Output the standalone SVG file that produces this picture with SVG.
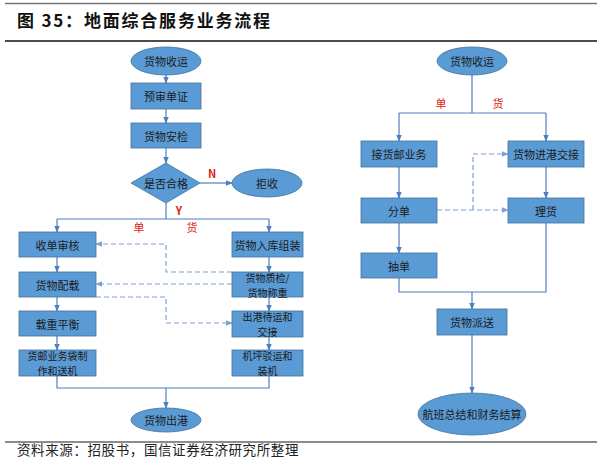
<svg xmlns="http://www.w3.org/2000/svg" width="601" height="467" viewBox="0 0 601 467">
<style>
.box{fill:#5B9BD5;stroke:#41719C;stroke-width:0.8}
.t{font-family:"Noto Sans CJK SC","Noto Sans",sans-serif;font-size:11px;fill:#1a1a1a;text-anchor:middle;dominant-baseline:central}
.t2{font-family:"Noto Sans CJK SC","Noto Sans",sans-serif;font-size:10px;fill:#1a1a1a;text-anchor:middle;dominant-baseline:central}
.ln{fill:none;stroke:#4F7FC0;stroke-width:1.2}
.ds{fill:none;stroke:#7FA0D4;stroke-width:1.2;stroke-dasharray:5,3}
.red{font-family:"Noto Sans CJK SC","Liberation Sans",sans-serif;font-size:11px;fill:#E0201A;text-anchor:middle;dominant-baseline:central}
</style>
<defs>
<marker id="ah" viewBox="0 0 10 10" refX="9" refY="5" markerWidth="6" markerHeight="6" orient="auto"><path d="M0,1 L10,5 L0,9 z" fill="#4F7FC0"/></marker>
<marker id="ahd" viewBox="0 0 10 10" refX="9" refY="5" markerWidth="6" markerHeight="6" orient="auto"><path d="M0,1 L10,5 L0,9 z" fill="#7FA0D4"/></marker>
</defs>
<rect width="601" height="467" fill="#fff"/>
<line x1="5" y1="3.5" x2="597" y2="3.5" stroke="#777" stroke-width="1.5"/>
<text x="17" y="27" font-family="'Noto Sans CJK SC','Liberation Sans',sans-serif" font-size="17" font-weight="bold" letter-spacing="1.8" fill="#111">图 35：地面综合服务业务流程</text>
<line x1="5" y1="41" x2="597" y2="41" stroke="#111" stroke-width="1.3"/>
<line x1="5" y1="442" x2="597" y2="442" stroke="#666" stroke-width="1.5"/>
<text x="17" y="455" font-family="'Noto Sans CJK SC',sans-serif" font-size="13.5" letter-spacing="0.6" fill="#222">资料来源：招股书，国信证券经济研究所整理</text>

<g id="connectors">
<path class="ln" d="M166,75 V83" marker-end="url(#ah)"/>
<path class="ln" d="M166,109 V123" marker-end="url(#ah)"/>
<path class="ln" d="M166,148 V163" marker-end="url(#ah)"/>
<path class="ln" d="M200,183 H232" marker-end="url(#ah)"/>
<path class="ln" d="M166,203 V219 M57,219 H269"/>
<path class="ln" d="M57,219 V232" marker-end="url(#ah)"/>
<path class="ln" d="M269,219 V232" marker-end="url(#ah)"/>
<path class="ln" d="M57,257 V272" marker-end="url(#ah)"/>
<path class="ln" d="M57,297 V311" marker-end="url(#ah)"/>
<path class="ln" d="M57,336 V350" marker-end="url(#ah)"/>
<path class="ln" d="M269,257 V272" marker-end="url(#ah)"/>
<path class="ln" d="M269,297 V311" marker-end="url(#ah)"/>
<path class="ln" d="M269,337 V350" marker-end="url(#ah)"/>
<path class="ln" d="M57,376 V388 H269 V376"/>
<path class="ln" d="M166,388 V408" marker-end="url(#ah)"/>
<path class="ds" d="M232,272 H166 V244 H96" marker-end="url(#ahd)"/>
<path class="ds" d="M232,284 H96" marker-end="url(#ahd)"/>
<path class="ds" d="M96,297 H166 V323 H232" marker-end="url(#ahd)"/>
<path class="ln" d="M472,75 V113 M399,113 H546"/>
<path class="ln" d="M399,113 V141" marker-end="url(#ah)"/>
<path class="ln" d="M546,113 V141" marker-end="url(#ah)"/>
<path class="ln" d="M399,167 V198" marker-end="url(#ah)"/>
<path class="ln" d="M546,167 V198" marker-end="url(#ah)"/>
<path class="ln" d="M399,223 V253" marker-end="url(#ah)"/>
<path class="ln" d="M399,278 V292 H546 V223"/>
<path class="ln" d="M472,292 V309" marker-end="url(#ah)"/>
<path class="ln" d="M472,335 V393" marker-end="url(#ah)"/>
<path class="ds" d="M437,210 H508" marker-end="url(#ahd)"/>
<path class="ds" d="M473,210 V154 H508" marker-end="url(#ahd)"/>
</g>

<g id="red-labels">
<text class="red" x="212" y="173" font-weight="bold">N</text>
<text class="red" x="179" y="210" font-weight="bold">Y</text>
<text class="red" x="139" y="227">单</text>
<text class="red" x="192" y="227">货</text>
<text class="red" x="441" y="103">单</text>
<text class="red" x="498" y="103">货</text>
</g>

<g id="n-start"><ellipse class="box" cx="166" cy="61" rx="35" ry="14"/><text class="t" x="166" y="61">货物收运</text></g>
<g id="n-prereview"><rect class="box" x="131" y="83" width="70" height="26"/><text class="t" x="166" y="96">预审单证</text></g>
<g id="n-security"><rect class="box" x="131" y="123" width="70" height="25"/><text class="t" x="166" y="135.5">货物安检</text></g>
<g id="n-check"><polygon class="box" points="166,163 200,183 166,203 131,183"/><text class="t" x="166" y="183">是否合格</text></g>
<g id="n-reject"><ellipse class="box" cx="267" cy="183" rx="35" ry="14"/><text class="t" x="267" y="183">拒收</text></g>
<g id="n-l1"><rect class="box" x="19" y="232" width="77" height="25"/><text class="t" x="57.5" y="244.5">收单审核</text></g>
<g id="n-l2"><rect class="box" x="19" y="272" width="77" height="25"/><text class="t" x="57.5" y="284.5">货物配载</text></g>
<g id="n-l3"><rect class="box" x="19" y="311" width="77" height="25"/><text class="t" x="57.5" y="323.5">载重平衡</text></g>
<g id="n-l4"><rect class="box" x="19" y="350" width="77" height="26"/><text class="t2" x="57.5" y="355.5">货邮业务袋制</text><text class="t2" x="57.5" y="370.5">作和送机</text></g>
<g id="n-r1"><rect class="box" x="232" y="232" width="71" height="25"/><text class="t" x="267.5" y="244.5">货物入库组装</text></g>
<g id="n-r2"><rect class="box" x="232" y="272" width="71" height="25"/><text class="t2" x="267.5" y="277">货物质检/</text><text class="t2" x="267.5" y="292">货物称重</text></g>
<g id="n-r3"><rect class="box" x="232" y="311" width="71" height="26"/><text class="t2" x="267.5" y="316.5">出港待运和</text><text class="t2" x="267.5" y="331.5">交接</text></g>
<g id="n-r4"><rect class="box" x="232" y="350" width="71" height="26"/><text class="t2" x="267.5" y="355.5">机坪驳运和</text><text class="t2" x="267.5" y="370.5">装机</text></g>
<g id="n-out"><ellipse class="box" cx="166" cy="420" rx="35" ry="12"/><text class="t" x="166" y="420">货物出港</text></g>

<g id="m-start"><ellipse class="box" cx="472" cy="61" rx="35" ry="14"/><text class="t" x="472" y="61">货物收运</text></g>
<g id="m-l1"><rect class="box" x="361" y="141" width="76" height="26"/><text class="t" x="399" y="154">接货邮业务</text></g>
<g id="m-r1"><rect class="box" x="508" y="141" width="76" height="26"/><text class="t" x="546" y="154">货物进港交接</text></g>
<g id="m-l2"><rect class="box" x="361" y="198" width="76" height="25"/><text class="t" x="399" y="210.5">分单</text></g>
<g id="m-r2"><rect class="box" x="508" y="198" width="76" height="25"/><text class="t" x="546" y="210.5">理货</text></g>
<g id="m-l3"><rect class="box" x="361" y="253" width="76" height="25"/><text class="t" x="399" y="265.5">抽单</text></g>
<g id="m-deliver"><rect class="box" x="437" y="309" width="70" height="26"/><text class="t" x="472" y="322">货物派送</text></g>
<g id="m-end"><ellipse class="box" cx="472" cy="414" rx="54" ry="21"/><text class="t" x="472" y="414">航班总结和财务结算</text></g>
</svg>
